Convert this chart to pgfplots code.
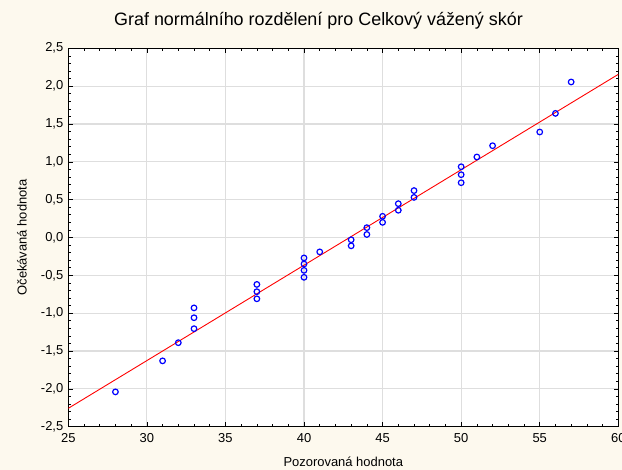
\documentclass[border=0pt]{standalone}
\usepackage{pgfplots}
\pgfplotsset{compat=1.18}
\usepackage{fontspec}
\setmainfont{Liberation Sans}
\definecolor{bgcream}{RGB}{253,249,238}
\definecolor{gridgray}{RGB}{222,222,222}
\definecolor{ptblue}{RGB}{0,0,255}
\definecolor{fitred}{RGB}{255,0,0}
\begin{document}
\begin{tikzpicture}
\path[use as bounding box, fill=bgcream] (-68.3bp,-43.3bp) rectangle (553.7bp,426.7bp);
\begin{axis}[
  scale only axis, width=550bp, height=378.4bp,
  at={(0,0)}, anchor=south west,
  xmin=25, xmax=60, ymin=-2.5, ymax=2.5,
  xtick={25,30,35,40,45,50,55,60},
  ytick={-2.5,-2,-1.5,-1,-0.5,0,0.5,1,1.5,2,2.5},
  yticklabels={{-2,5},{-2,0},{-1,5},{-1,0},{-0,5},{0,0},{0,5},{1,0},{1,5},{2,0},{2,5}},
  /pgf/number format/assume math mode=true,
  axis background/.style={fill=white},
  grid=major, major grid style={gridgray, line width=1.1bp},
  minor tick num=4, tick align=inside,
  major tick length=4.5bp, minor tick length=2.5bp,
  tick style={black, line width=0.6bp},
  axis line style={black, line width=1.1bp},
  xtick pos=both, ytick pos=both,
  ticklabel style={font=\fontsize{13}{15}\selectfont},
  xticklabel style={yshift=-3.7bp},
  yticklabel style={xshift=-1.5bp},
  xlabel={Pozorovaná hodnota}, ylabel={Očekávaná hodnota},
  label style={font=\fontsize{13}{15}\selectfont},
  xlabel style={at={(rel axis cs:0.5,-0.0933)}, anchor=center},
  ylabel style={at={(rel axis cs:-0.0842,0.5)}, anchor=center},
  title={Graf normálního rozdělení pro Celkový vážený skór},
  title style={at={(rel axis cs:0.4549,1.0563)}, anchor=center, font=\fontsize{18}{20}\selectfont},
]
\addplot[fitred, line width=0.9bp, no marks] coordinates {(25,-2.257) (60,2.156)};
\addplot[only marks, mark=o, mark size=2.8bp, ptblue, mark options={line width=1.2bp}] table {
x y
28 -2.04
31 -1.63
32 -1.39
33 -1.205
33 -1.06
33 -0.93
37 -0.81
37 -0.716
37 -0.62
40 -0.526
40 -0.434
40 -0.35
40 -0.27
41 -0.19
43 -0.11
43 -0.03
44 0.04
44 0.13
45 0.20
45 0.28
46 0.36
46 0.447
47 0.53
47 0.62
50 0.724
50 0.83
50 0.935
51 1.064
52 1.213
55 1.394
56 1.64
57 2.055
};
\end{axis}
\end{tikzpicture}
\end{document}
